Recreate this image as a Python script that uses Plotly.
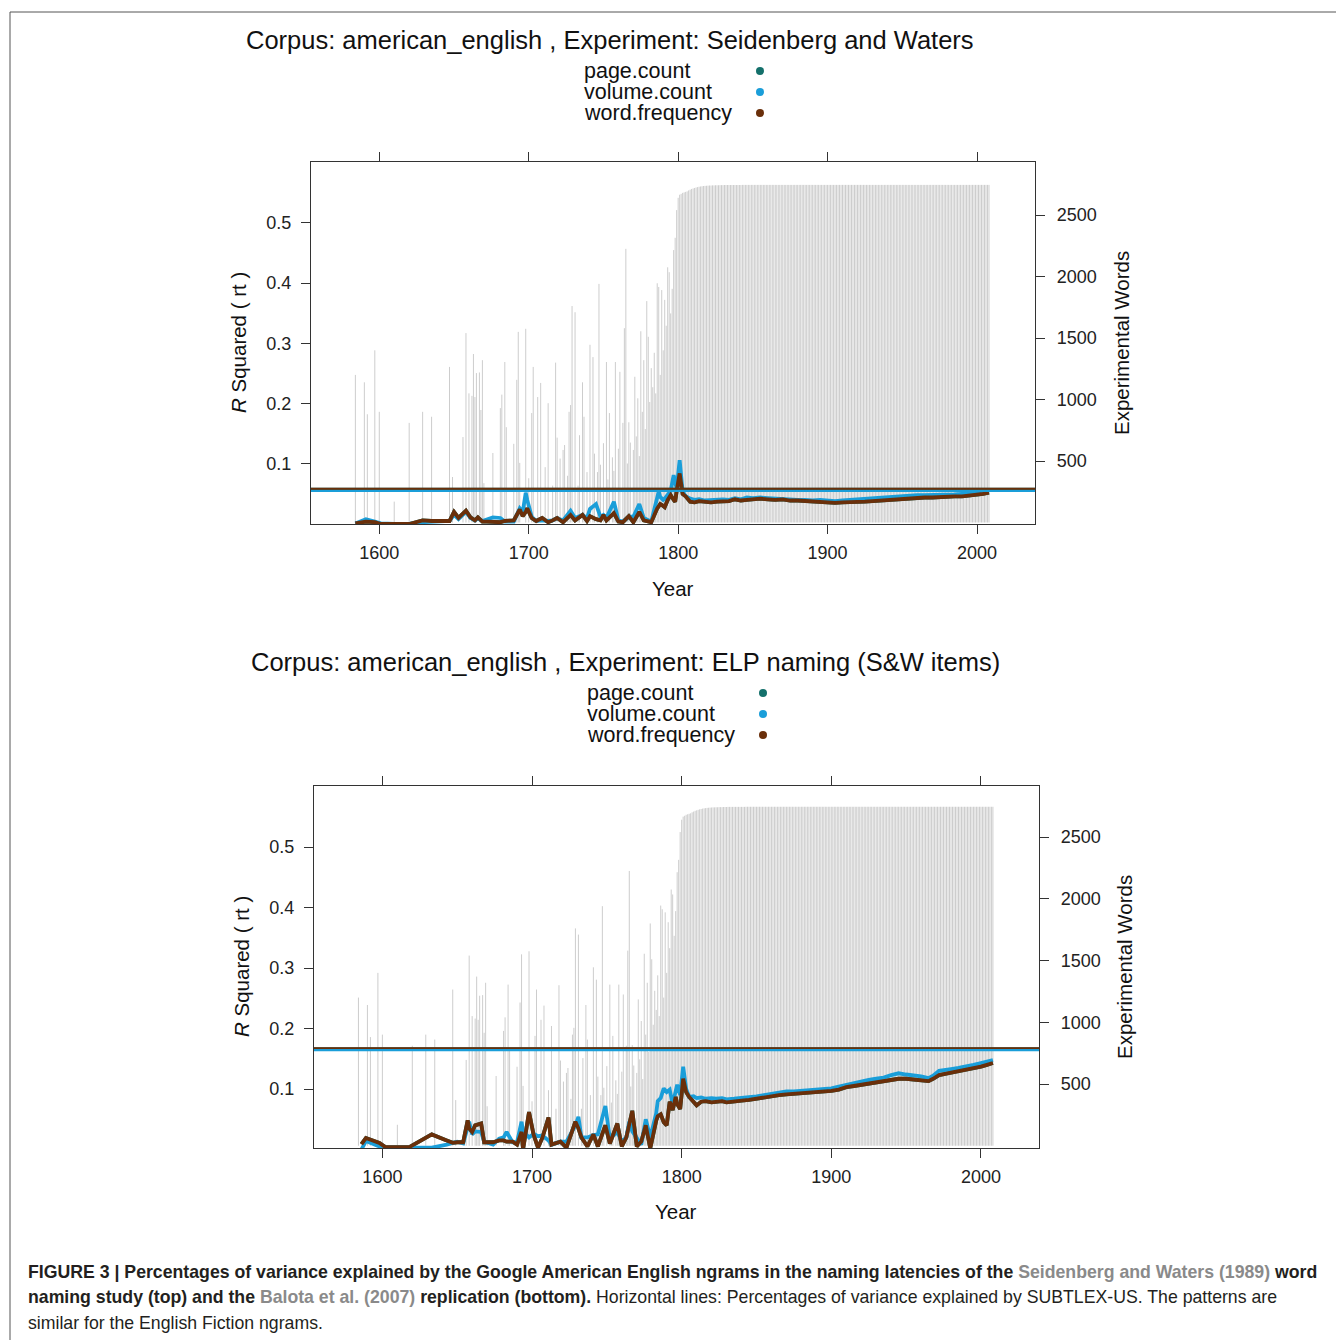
import plotly.graph_objects as go

# ---------------- data ----------------
# Experimental words available per year (grey bars, right axis)
bar_years_pre = [1584, 1590, 1592, 1597, 1600, 1610, 1620, 1629, 1635, 1647, 1649, 1656, 1658, 1660,
                 1662, 1663, 1664, 1665, 1667, 1668, 1669, 1670, 1676, 1681, 1682, 1684, 1685, 1690,
                 1692, 1693, 1694, 1698, 1700, 1702, 1703, 1706, 1708, 1711, 1713, 1716, 1718, 1719,
                 1721, 1723, 1724, 1726, 1727, 1728, 1729, 1731, 1733, 1734, 1736, 1737, 1739, 1741,
                 1743, 1744, 1746, 1747, 1748, 1750, 1752, 1753, 1754, 1756, 1757, 1758, 1760, 1761,
                 1763, 1764, 1765, 1766, 1767, 1768, 1770, 1771, 1772, 1773, 1774, 1775, 1776, 1777,
                 1778, 1779, 1780, 1781, 1782, 1783, 1784, 1785, 1786, 1787, 1788, 1789, 1790, 1791,
                 1792, 1793, 1794, 1795, 1796, 1797, 1798, 1799]
bar_counts_pre = [1200, 1140, 880, 1400, 900, 170, 810, 900, 860, 1265, 370, 695, 1540, 1050,
                  1030, 1370, 1020, 1215, 1220, 915, 1320, 320, 565, 930, 1040, 1305, 775, 640,
                  1160, 1550, 485, 1575, 360, 890, 1265, 1020, 1135, 450, 970, 300, 1300, 690,
                  520, 590, 630, 380, 900, 955, 1760, 1710, 300, 710, 1140, 860, 410, 1445,
                  1345, 560, 410, 1940, 470, 645, 1305, 350, 890, 530, 420, 1305, 600, 1225,
                  810, 1580, 2225, 480, 815, 650, 590, 1185, 700, 1010, 540, 1555, 900, 1320,
                  760, 1800, 1510, 980, 1255, 1100, 1380, 1050, 1945, 1915, 1200, 1890, 1400, 1810,
                  1600, 2075, 2035, 1700, 1900, 2215, 2315, 2540]
bar_years_post = list(range(1800, 2009))
bar_counts_post = [
    2640, 2665, 2672, 2680, 2684, 2688, 2692, 2700, 2706, 2712,   # 1800s
    2716, 2720, 2724, 2727, 2730, 2732, 2734, 2736, 2737, 2738,   # 1810s
    2739, 2740, 2740, 2741, 2741, 2742, 2742, 2742, 2743, 2743,   # 1820s
    2743, 2744, 2744, 2744, 2744, 2744, 2744, 2744, 2744, 2744,   # 1830s
    2744, 2744, 2744, 2745, 2745, 2745, 2745, 2745, 2745, 2745,   # 1840s
    2745, 2745, 2745, 2745, 2745, 2745, 2745, 2745, 2745, 2745,   # 1850s
    2745, 2745, 2745, 2745, 2745, 2745, 2745, 2745, 2745, 2745,   # 1860s
    2745, 2745, 2745, 2745, 2745, 2745, 2745, 2745, 2745, 2745,   # 1870s
    2745, 2745, 2745, 2745, 2745, 2745, 2745, 2745, 2745, 2745,   # 1880s
    2745, 2745, 2745, 2745, 2745, 2745, 2745, 2745, 2745, 2745,   # 1890s
    2745, 2745, 2745, 2745, 2745, 2745, 2745, 2745, 2745, 2745,   # 1900s
    2745, 2745, 2745, 2745, 2745, 2745, 2745, 2745, 2745, 2745,   # 1910s
    2745, 2745, 2745, 2745, 2745, 2745, 2745, 2745, 2745, 2745,   # 1920s
    2745, 2745, 2745, 2745, 2745, 2745, 2745, 2745, 2745, 2745,   # 1930s
    2745, 2745, 2745, 2745, 2745, 2745, 2745, 2745, 2745, 2745,   # 1940s
    2745, 2745, 2745, 2745, 2745, 2745, 2745, 2745, 2745, 2745,   # 1950s
    2745, 2745, 2745, 2745, 2745, 2745, 2745, 2745, 2745, 2745,   # 1960s
    2745, 2745, 2745, 2745, 2745, 2745, 2745, 2745, 2745, 2745,   # 1970s
    2745, 2745, 2745, 2745, 2745, 2745, 2745, 2745, 2745, 2745,   # 1980s
    2745, 2745, 2745, 2745, 2745, 2745, 2745, 2745, 2745, 2745,   # 1990s
    2745, 2745, 2745, 2745, 2745, 2745, 2745, 2745, 2745,         # 2000-2008
]

# R squared, top panel (Seidenberg and Waters)
years_top = [1584, 1591, 1597, 1601, 1610, 1620, 1629, 1635, 1647, 1650, 1653, 1658, 1661, 1664,
             1666, 1669, 1672, 1676, 1681, 1684, 1690, 1694, 1696, 1698, 1699, 1702, 1705, 1709,
             1713, 1716, 1719, 1723, 1728, 1731, 1736, 1739, 1741, 1745, 1748, 1750, 1752, 1757,
             1760, 1763, 1767, 1770, 1774, 1777, 1782, 1786, 1787, 1788, 1790, 1791, 1793, 1795,
             1797, 1798, 1799, 1801, 1803, 1805, 1808, 1811, 1814, 1818, 1822, 1826, 1830, 1834,
             1838, 1842, 1846, 1850, 1855, 1860, 1865, 1870, 1875, 1880, 1885, 1890, 1895, 1900,
             1905, 1910, 1915, 1920, 1925, 1930, 1935, 1940, 1945, 1950, 1955, 1960, 1965, 1970,
             1975, 1980, 1985, 1990, 1995, 2000, 2004, 2008]
volume_top = [0.001, 0.008, 0.004, 0.001, 0.000, 0.000, 0.003, 0.004, 0.005, 0.015, 0.008, 0.020,
              0.010, 0.006, 0.009, 0.005, 0.008, 0.011, 0.010, 0.004, 0.004, 0.026, 0.020, 0.052,
              0.040, 0.012, 0.005, 0.006, 0.005, 0.006, 0.010, 0.006, 0.022, 0.010, 0.015, 0.010,
              0.025, 0.033, 0.012, 0.015, 0.010, 0.037, 0.006, 0.004, 0.012, 0.012, 0.033, 0.010,
              0.004, 0.040, 0.054, 0.045, 0.040, 0.042, 0.048, 0.055, 0.081, 0.065, 0.059, 0.106,
              0.054, 0.046, 0.042, 0.040, 0.041, 0.039, 0.040, 0.040, 0.041, 0.040, 0.043, 0.041,
              0.044, 0.043, 0.044, 0.043, 0.042, 0.042, 0.041, 0.040, 0.040, 0.039, 0.040, 0.039,
              0.038, 0.039, 0.040, 0.041, 0.041, 0.042, 0.043, 0.044, 0.045, 0.046, 0.047, 0.048,
              0.048, 0.048, 0.049, 0.049, 0.049, 0.050, 0.050, 0.051, 0.052, 0.054]
wordfreq_top = [0.001, 0.004, 0.003, 0.000, 0.000, 0.000, 0.006, 0.005, 0.005, 0.020, 0.010, 0.022,
                0.011, 0.006, 0.011, 0.004, 0.004, 0.004, 0.003, 0.005, 0.006, 0.024, 0.013, 0.020,
                0.026, 0.010, 0.005, 0.010, 0.003, 0.006, 0.010, 0.003, 0.015, 0.006, 0.015, 0.005,
                0.013, 0.008, 0.006, 0.015, 0.006, 0.018, 0.004, 0.003, 0.013, 0.003, 0.020, 0.006,
                0.003, 0.026, 0.030, 0.033, 0.030, 0.028, 0.040, 0.048, 0.040, 0.037, 0.055, 0.084,
                0.050, 0.046, 0.037, 0.036, 0.038, 0.037, 0.036, 0.037, 0.038, 0.038, 0.041, 0.039,
                0.040, 0.041, 0.042, 0.041, 0.040, 0.041, 0.039, 0.039, 0.038, 0.037, 0.037, 0.036,
                0.035, 0.036, 0.036, 0.037, 0.037, 0.038, 0.039, 0.040, 0.041, 0.041, 0.042, 0.043,
                0.044, 0.044, 0.045, 0.045, 0.046, 0.046, 0.047, 0.048, 0.050, 0.052]
pagecount_top = wordfreq_top  # coincides with word.frequency in the figure

# R squared, bottom panel (ELP naming)
years_bot = [1586, 1589, 1598, 1602, 1618, 1633, 1643, 1647, 1650, 1654, 1657, 1658, 1660, 1662,
             1666, 1668, 1674, 1678, 1681, 1683, 1687, 1690, 1693, 1694, 1698, 1701, 1704, 1707,
             1711, 1713, 1719, 1723, 1729, 1731, 1733, 1737, 1741, 1744, 1749, 1752, 1757, 1760,
             1763, 1765, 1767, 1770, 1773, 1776, 1779, 1783, 1784, 1786, 1788, 1790, 1792, 1794,
             1796, 1797, 1799, 1801, 1803, 1805, 1808, 1810, 1813, 1816, 1820, 1823, 1827, 1830,
             1835, 1840, 1845, 1850, 1855, 1860, 1865, 1870, 1875, 1880, 1885, 1890, 1895, 1900,
             1905, 1910, 1915, 1920, 1925, 1930, 1935, 1940, 1945, 1950, 1955, 1960, 1965, 1968,
             1972, 1976, 1980, 1985, 1990, 1995, 2000, 2004, 2008]
volume_bot = [0.000, 0.014, 0.005, 0.003, 0.003, 0.003, 0.008, 0.010, 0.013, 0.010, 0.040, 0.046,
              0.025, 0.030, 0.029, 0.013, 0.008, 0.018, 0.020, 0.029, 0.012, 0.012, 0.046, 0.030,
              0.020, 0.026, 0.022, 0.023, 0.015, 0.008, 0.013, 0.013, 0.040, 0.054, 0.020, 0.020,
              0.024, 0.025, 0.072, 0.018, 0.029, 0.013, 0.020, 0.046, 0.030, 0.018, 0.008, 0.050,
              0.020, 0.060, 0.080, 0.085, 0.101, 0.095, 0.099, 0.075, 0.095, 0.107, 0.090, 0.137,
              0.100, 0.087, 0.088, 0.085, 0.086, 0.084, 0.085, 0.084, 0.085, 0.083, 0.084, 0.085,
              0.086, 0.088, 0.090, 0.092, 0.094, 0.096, 0.096, 0.097, 0.098, 0.099, 0.100, 0.101,
              0.104, 0.107, 0.110, 0.112, 0.115, 0.117, 0.119, 0.123, 0.126, 0.124, 0.123, 0.121,
              0.118, 0.122, 0.130, 0.131, 0.133, 0.135, 0.137, 0.140, 0.143, 0.146, 0.148]
wordfreq_bot = [0.009, 0.019, 0.011, 0.004, 0.004, 0.025, 0.015, 0.011, 0.012, 0.012, 0.048, 0.035,
                0.029, 0.040, 0.043, 0.012, 0.012, 0.015, 0.015, 0.013, 0.013, 0.008, 0.029, 0.000,
                0.062, 0.025, 0.003, 0.020, 0.053, 0.008, 0.013, 0.003, 0.046, 0.035, 0.020, 0.005,
                0.025, 0.005, 0.040, 0.010, 0.043, 0.005, 0.020, 0.040, 0.064, 0.005, 0.013, 0.040,
                0.002, 0.048, 0.055, 0.058, 0.045, 0.040, 0.079, 0.065, 0.087, 0.075, 0.067, 0.117,
                0.095, 0.087, 0.078, 0.073, 0.079, 0.080, 0.078, 0.079, 0.080, 0.078, 0.080, 0.081,
                0.082, 0.084, 0.087, 0.088, 0.090, 0.091, 0.092, 0.093, 0.093, 0.094, 0.096, 0.097,
                0.099, 0.103, 0.105, 0.107, 0.110, 0.112, 0.114, 0.116, 0.117, 0.117, 0.116, 0.115,
                0.113, 0.117, 0.123, 0.125, 0.127, 0.129, 0.131, 0.134, 0.137, 0.140, 0.143]
pagecount_bot = wordfreq_bot

# SUBTLEX-US reference lines
subtlex_top = {"page.count": 0.0585, "volume.count": 0.0555, "word.frequency": 0.0585}
subtlex_bot = {"page.count": 0.1675, "volume.count": 0.1650, "word.frequency": 0.1675}

measures = ["page.count", "volume.count", "word.frequency"]
colors = {"page.count": "#14706b", "volume.count": "#1a9ed9", "word.frequency": "#6a2f0a"}

titles = ["Corpus: american_english , Experiment: Seidenberg and Waters",
          "Corpus: american_english , Experiment: ELP naming (S&W items)"]
x_ticks = [1600, 1700, 1800, 1900, 2000]
r_ticks = [0.1, 0.2, 0.3, 0.4, 0.5]
w_ticks = [500, 1000, 1500, 2000, 2500]

# ---------------- figure ----------------
OFF = 8                      # page body margin of the html page
W, H = 1344 - OFF, 1340 - OFF
def px(x): return (x - OFF) / W
def py(y): return 1 - (y - OFF) / H

FONT = "Liberation Sans, Arial, Helvetica, sans-serif"
AX = "#333333"
BAR = "#cdcdcd"

fig = go.Figure()

def bar_xy(years, counts):
    xs, ys = [], []
    for yr, c in zip(years, counts):
        xs += [yr, yr, None]
        ys += [0, c, None]
    return xs, ys

bx, by = bar_xy(bar_years_pre + bar_years_post, bar_counts_pre + bar_counts_post)

panels = [
    dict(xa="x", ya_w="y", ya_r="y2", years=years_top,
         series={"page.count": pagecount_top, "volume.count": volume_top, "word.frequency": wordfreq_top},
         sub=subtlex_top),
    dict(xa="x2", ya_w="y3", ya_r="y4", years=years_bot,
         series={"page.count": pagecount_bot, "volume.count": volume_bot, "word.frequency": wordfreq_bot},
         sub=subtlex_bot),
]

shapes = []
for p in panels:
    fig.add_trace(go.Scatter(x=bx, y=by, mode="lines", xaxis=p["xa"], yaxis=p["ya_w"],
                             line=dict(color=BAR, width=1), showlegend=False, hoverinfo="skip"))
    for m in measures:
        fig.add_trace(go.Scatter(x=p["years"], y=p["series"][m], mode="lines",
                                 xaxis=p["xa"], yaxis=p["ya_r"],
                                 line=dict(color=colors[m], width=3.8), showlegend=False))
    for m, w in [("volume.count", 3), ("page.count", 1.8), ("word.frequency", 1.8)]:
        shapes.append(dict(type="line", xref=p["xa"] + " domain", x0=0, x1=1,
                           yref=p["ya_r"], y0=p["sub"][m], y1=p["sub"][m],
                           line=dict(color=colors[m], width=w)))

# frame of the figure page
shapes.append(dict(type="line", xref="paper", yref="paper", x0=px(10), x1=1, y0=py(12), y1=py(12),
                   line=dict(color="#555555", width=1)))
shapes.append(dict(type="line", xref="paper", yref="paper", x0=px(10), x1=px(10), y0=py(12), y1=0,
                   line=dict(color="#555555", width=1)))

annotations = []
def ann(text, x, y, size, xanchor="center", angle=0, color="#111111", family=FONT):
    annotations.append(dict(text=text, xref="paper", yref="paper", x=px(x), y=py(y),
                            xanchor=xanchor, yanchor="middle", showarrow=False, textangle=angle,
                            font=dict(size=size, color=color, family=family)))

# titles, legends, axis titles
layouts = [
    dict(title_xy=(610, 40), leg_x=582, dot_x=760, leg_y=[71, 92, 113],
         year_xy=(673, 588), r_xy=(238, 343), w_xy=(1121, 343)),
    dict(title_xy=(625, 662), leg_x=585, dot_x=763, leg_y=[693, 714, 735],
         year_xy=(676, 1211), r_xy=(241, 967), w_xy=(1124, 967)),
]
for i, L in enumerate(layouts):
    ann(titles[i], L["title_xy"][0], L["title_xy"][1], 25.5)
    for m, yy in zip(measures, L["leg_y"]):
        ann(m, L["leg_x"], yy, 21.5, xanchor="left")
        r = 4
        shapes.append(dict(type="circle", xref="paper", yref="paper",
                           x0=px(L["dot_x"] - r), x1=px(L["dot_x"] + r),
                           y0=py(yy + r), y1=py(yy - r),
                           fillcolor=colors[m], line=dict(width=0)))
    ann("Year", L["year_xy"][0], L["year_xy"][1], 20.5)
    ann("<i>R</i> Squared ( rt )", L["r_xy"][0], L["r_xy"][1], 20.5, angle=-90)
    ann("Experimental Words", L["w_xy"][0], L["w_xy"][1], 20.5, angle=-90)

# caption
GREY = "#8a8a8a"
cap1 = ("<b>FIGURE 3 | Percentages of variance explained by the Google American English ngrams in the "
        "naming latencies of the <span style='color:" + GREY + "'>Seidenberg and Waters (1989)</span> word</b>")
cap2 = ("<b>naming study (top) and the <span style='color:" + GREY + "'>Balota et al. (2007)</span> "
        "replication (bottom).</b> Horizontal lines: Percentages of variance explained by SUBTLEX-US. "
        "The patterns are")
cap3 = "similar for the English Fiction ngrams."
for t, yy in zip([cap1, cap2, cap3], [1272, 1297, 1323]):
    ann(t, 26, yy, 17.7, xanchor="left", color="#231f20")

tickfont = dict(size=18, color="#222222", family=FONT)
def xaxis(dom, anchor):
    return dict(domain=dom, anchor=anchor, range=[1554.3, 2038.8], tickvals=x_ticks,
                ticks="outside", ticklen=9, tickwidth=1.2, tickcolor=AX, showline=True, linecolor=AX,
                linewidth=1.2, mirror="ticks", showgrid=False, zeroline=False, tickfont=tickfont,
                ticklabelstandoff=3)
def waxis(dom, anchor, rng):
    return dict(domain=dom, anchor=anchor, side="right", range=rng, tickvals=w_ticks,
                ticks="outside", ticklen=9, tickwidth=1.2, tickcolor=AX, showline=True, linecolor=AX,
                linewidth=1.2, mirror=True, showgrid=False, zeroline=False, tickfont=tickfont,
                ticklabelstandoff=8)
def raxis(over, anchor, rng):
    return dict(overlaying=over, anchor=anchor, side="left", range=rng, tickvals=r_ticks,
                ticktext=[str(v) for v in r_ticks],
                ticks="outside", ticklen=9, tickwidth=1.2, tickcolor=AX, showline=False,
                showgrid=False, zeroline=False, tickfont=tickfont, ticklabelstandoff=6)

fig.update_layout(
    width=W, height=H, margin=dict(l=0, r=0, t=0, b=0),
    paper_bgcolor="white", plot_bgcolor="rgba(0,0,0,0)",
    showlegend=False, font=dict(family=FONT),
    xaxis=xaxis([px(311), px(1035)], "y"),
    yaxis=waxis([py(524), py(162)], "x", [-12, 2931]),
    yaxis2=raxis("y", "x", [0.0, 0.601]),
    xaxis2=xaxis([px(314), px(1039)], "y3"),
    yaxis3=waxis([py(1148), py(786)], "x2", [-18, 2913]),
    yaxis4=raxis("y3", "x2", [0.0025, 0.601]),
    shapes=shapes, annotations=annotations,
)

fig.write_html("out.html")
